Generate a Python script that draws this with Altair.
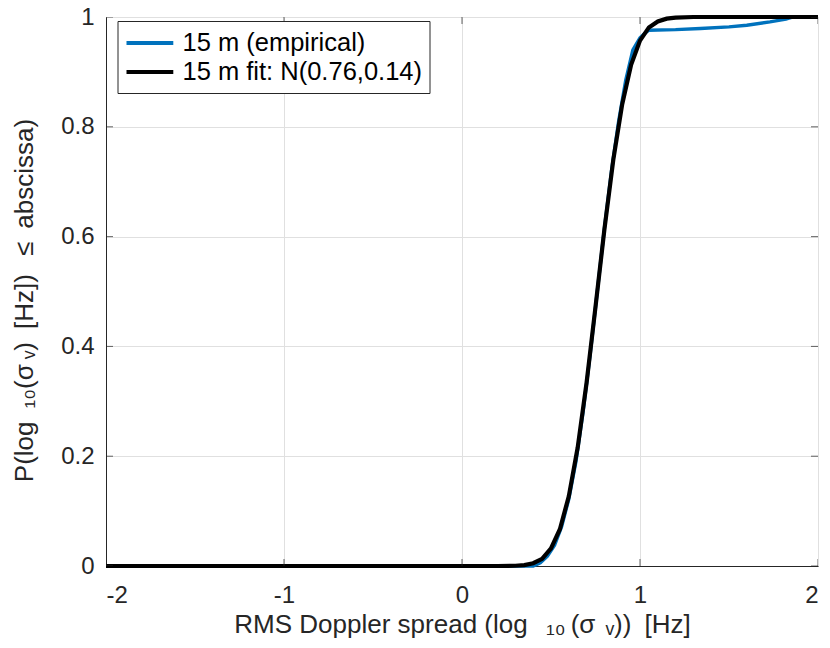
import altair as alt
import pandas as pd

# Empirical CDF
emp_x = [-2.0, 0.40, 0.44, 0.48, 0.52, 0.56, 0.60, 0.64, 0.68, 0.72, 0.76, 0.80, 0.84,
         0.88, 0.92, 0.96, 1.00, 1.03, 1.05, 1.20, 1.34, 1.50, 1.60, 1.73, 1.82, 1.86, 2.0]
emp_y = [0.0, 0.0, 0.006, 0.018, 0.038, 0.072, 0.122, 0.19, 0.28, 0.385, 0.50, 0.615, 0.72,
         0.81, 0.885, 0.94, 0.962, 0.971, 0.976, 0.977, 0.979, 0.982, 0.985, 0.991, 0.996, 1.0, 1.0]

# Fitted normal CDF N(0.76, 0.14)
fit_x = [-2.0, 0.20, 0.30, 0.35, 0.40, 0.45, 0.50, 0.55, 0.60, 0.65, 0.70, 0.75, 0.80,
         0.85, 0.90, 0.95, 1.00, 1.05, 1.10, 1.15, 1.20, 1.30, 1.40, 2.0]
fit_y = [0.0, 0.0, 0.0005, 0.0017, 0.005, 0.013, 0.032, 0.067, 0.127, 0.216, 0.334, 0.472, 0.613,
         0.740, 0.841, 0.913, 0.957, 0.981, 0.992, 0.997, 0.999, 1.0, 1.0, 1.0]

series = ["15 m (empirical)", "15 m fit: N(0.76,0.14)"]
colors = ["#0072BD", "#000000"]

x_ticks = [-2, -1, 0, 1, 2]
y_ticks = [0, 0.2, 0.4, 0.6, 0.8, 1]

x_title = "RMS Doppler spread (log\u2002\u2009\u2081\u2080\u2009(\u03c3\u2009\u2009\u1d65))\u2002[Hz]"
y_title = "P(log\u2002\u2081\u2080(\u03c3\u2009\u1d65)\u2002[Hz])\u2002\u2009\u2264\u2002abscissa)"

emp = pd.DataFrame({"x": emp_x, "y": emp_y, "s": series[0]})
fit = pd.DataFrame({"x": fit_x, "y": fit_y, "s": series[1]})

FONT = "Liberation Sans"
TXT = "#262626"
W, H = 712, 549

xscale = alt.Scale(domain=[-2, 2], nice=False, zero=False)
yscale = alt.Scale(domain=[0, 1], nice=False, zero=False)

xaxis = alt.Axis(values=x_ticks, labelExpr="'' + datum.value", ticks=False,
                 title=x_title,
                 labelFontSize=24, titleFontSize=26, labelPadding=17.5, titlePadding=4,
                 grid=True, gridColor="#e0e0e0", domainColor=TXT, labelColor=TXT,
                 titleColor=TXT, titleFontWeight="normal", labelFont=FONT, titleFont=FONT)
yaxis = alt.Axis(values=y_ticks, labelExpr="'' + datum.value", ticks=False,
                 title=y_title,
                 labelFontSize=24, titleFontSize=26, labelPadding=12, titlePadding=23,
                 grid=True, gridColor="#e0e0e0", domainColor=TXT, labelColor=TXT,
                 titleColor=TXT, titleFontWeight="normal", labelFont=FONT, titleFont=FONT,
                 titleY=283)

color = alt.Color("s:N", scale=alt.Scale(domain=series, range=colors),
                  legend=alt.Legend(title=None, orient="none", legendX=11.5, legendY=4,
                                    symbolType="M-1,0H2.6", symbolSize=676,
                                    symbolStrokeWidth=3.8, symbolFillColor="transparent",
                                    labelFontSize=25.5,
                                    labelFont=FONT, labelColor="#000000",
                                    labelOffset=28, rowPadding=0, padding=7,
                                    strokeColor=TXT, fillColor="white",
                                    labelLimit=400))

emp_line = alt.Chart(emp).mark_line(strokeWidth=3.4).encode(
    x=alt.X("x:Q", scale=xscale, axis=xaxis),
    y=alt.Y("y:Q", scale=yscale, axis=yaxis),
    color=color,
)
fit_line = alt.Chart(fit).mark_line(strokeWidth=4.2).encode(
    x=alt.X("x:Q", scale=xscale),
    y=alt.Y("y:Q", scale=yscale),
    color=color,
)

xt = pd.DataFrame({"v": x_ticks})
yt = pd.DataFrame({"v": y_ticks})
tick_style = dict(color=TXT, thickness=1, size=14, clip=True)
tick_bottom = alt.Chart(xt).mark_tick(orient="vertical", **tick_style).encode(
    x=alt.X("v:Q", scale=xscale), y=alt.datum(0, scale=yscale))
tick_top = alt.Chart(xt).mark_tick(orient="vertical", **tick_style).encode(
    x=alt.X("v:Q", scale=xscale), y=alt.datum(1, scale=yscale))
tick_left = alt.Chart(yt).mark_tick(orient="horizontal", **tick_style).encode(
    y=alt.Y("v:Q", scale=yscale), x=alt.datum(-2, scale=xscale))
tick_right = alt.Chart(yt).mark_tick(orient="horizontal", **tick_style).encode(
    y=alt.Y("v:Q", scale=yscale), x=alt.datum(2, scale=xscale))

chart = alt.layer(emp_line, fit_line, tick_bottom, tick_top, tick_left, tick_right).properties(
    width=W, height=H,
    autosize=alt.AutoSizeParams(type="none"),
    padding={"left": 98, "top": 9, "right": 4, "bottom": 74},
).configure_view(stroke=TXT, strokeWidth=1).configure(background="white")

chart.save("out.html", embed_options={"renderer": "svg", "actions": False})
